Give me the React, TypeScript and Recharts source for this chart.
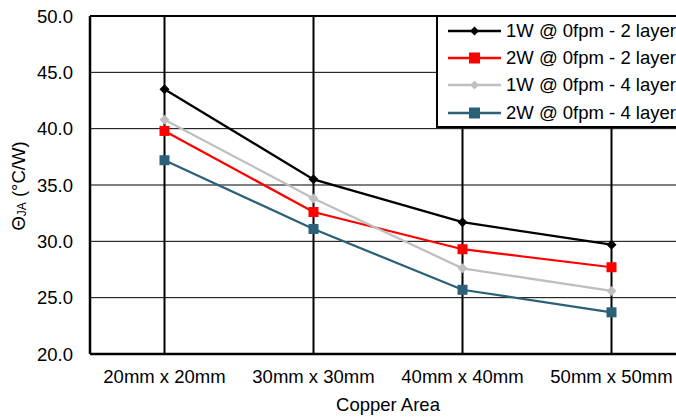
import {
  LineChart,
  Line,
  CartesianGrid,
  XAxis,
  YAxis,
  ReferenceLine,
  Legend,
} from "recharts";

const categories = ["20mm x 20mm", "30mm x 30mm", "40mm x 40mm", "50mm x 50mm"];
const seriesNames = [
  "1W @ 0fpm - 2 layers",
  "2W @ 0fpm - 2 layers",
  "1W @ 0fpm - 4 layers",
  "2W @ 0fpm - 4 layers",
];
const oneWattTwoLayer = [43.5, 35.5, 31.7, 29.7];
const twoWattTwoLayer = [39.8, 32.6, 29.3, 27.7];
const oneWattFourLayer = [40.8, 33.8, 27.6, 25.6];
const twoWattFourLayer = [37.2, 31.1, 25.7, 23.7];
const yTicks = [20, 25, 30, 35, 40, 45, 50];

const FONT = '"Liberation Sans", Arial, sans-serif';
const FS = 18.5;

// style per series, same order as seriesNames
const styles = [
  { key: "s1", color: "#000000", shape: "diamond", r: 5, lr: 4.5 },
  { key: "s2", color: "#ff0000", shape: "square", r: 5, lr: 5.5 },
  { key: "s3", color: "#bfbfbf", shape: "diamond", r: 5, lr: 4.5 },
  { key: "s4", color: "#2b6079", shape: "square", r: 5, lr: 5.5 },
];

const seriesValues = [oneWattTwoLayer, twoWattTwoLayer, oneWattFourLayer, twoWattFourLayer];

const chartData = categories.map((area, i) => {
  const row: Record<string, string | number> = { area };
  styles.forEach((s, j) => {
    row[s.key] = seriesValues[j][i];
  });
  return row;
});

function Marker({ shape, color, cx, cy, r }: any) {
  if (shape === "diamond") {
    return (
      <path
        d={`M${cx},${cy - r}L${cx + r},${cy}L${cx},${cy + r}L${cx - r},${cy}Z`}
        fill={color}
      />
    );
  }
  return <rect x={cx - r} y={cy - r} width={2 * r} height={2 * r} fill={color} />;
}

function makeDot(shape: string, color: string, r: number) {
  return (props: any) => {
    const { cx, cy, index } = props;
    if (cx == null || cy == null) return <g key={index} />;
    return (
      <g key={index}>
        <Marker shape={shape} color={color} cx={cx} cy={cy} r={r} />
      </g>
    );
  };
}

function LegendBox() {
  return (
    <div
      style={{
        boxSizing: "border-box",
        width: 260,
        height: 113,
        border: "2px solid #000",
        background: "#fff",
        fontFamily: FONT,
        fontSize: FS,
        color: "#000",
      }}
    >
      {seriesNames.map((name, i) => (
        <div
          key={name}
          style={{
            display: "flex",
            alignItems: "center",
            height: 27.3,
            paddingLeft: 10,
            whiteSpace: "nowrap",
          }}
        >
          <svg width={53} height={16} style={{ marginRight: 5, flex: "none" }}>
            <line x1={0} y1={8} x2={53} y2={8} stroke={styles[i].color} strokeWidth={2.5} />
            <Marker
              shape={styles[i].shape}
              color={styles[i].color}
              cx={26.5}
              cy={8}
              r={styles[i].lr}
            />
          </svg>
          <span>{name}</span>
        </div>
      ))}
    </div>
  );
}

function YTitle(props: any) {
  const vb = props.viewBox || { x: 0, y: 16, width: 90, height: 338 };
  const x = vb.x + 18;
  const y = vb.y + vb.height / 2 + 1;
  return (
    <text
      x={x}
      y={y}
      transform={`rotate(-90, ${x}, ${y})`}
      textAnchor="middle"
      dominantBaseline="central"
      fontFamily={FONT}
      fontSize={FS}
      fill="#000"
    >
      Θ
      <tspan dy={4} fontSize={12}>
        JA
      </tspan>
      <tspan dy={-4}> (°C/W)</tspan>
    </text>
  );
}

function XTitle(props: any) {
  const vb = props.viewBox || { x: 90, y: 354, width: 596, height: 63 };
  return (
    <text
      x={vb.x + vb.width / 2}
      y={vb.y + 57}
      textAnchor="middle"
      fontFamily={FONT}
      fontSize={FS}
      fill="#000"
    >
      Copper Area
    </text>
  );
}

export default function App() {
  return (
    <div
      style={{
        position: "fixed",
        left: 0,
        top: 0,
        width: 676,
        height: 417,
        overflow: "hidden",
        background: "#fff",
      }}
    >
      <LineChart
        width={690}
        height={417}
        data={chartData}
        margin={{ top: 16, right: 4, left: 0, bottom: 0 }}
        style={{ fontFamily: FONT }}
      >
        <CartesianGrid vertical={false} stroke="#000" strokeWidth={1} />
        <CartesianGrid horizontal={false} stroke="#000" strokeWidth={2} />
        <XAxis
          dataKey="area"
          type="category"
          scale="band"
          height={63}
          tickLine={false}
          tickMargin={10}
          axisLine={{ stroke: "#000", strokeWidth: 2.5 }}
          tick={{ fontSize: FS, fill: "#000", fontFamily: FONT }}
          label={<XTitle />}
        />
        <YAxis
          width={90}
          domain={[20, 50]}
          ticks={yTicks}
          interval={0}
          tickLine={false}
          tickMargin={11}
          axisLine={{ stroke: "#000", strokeWidth: 2.5 }}
          tick={{ fontSize: FS, fill: "#000", fontFamily: FONT }}
          tickFormatter={(v) => Number(v).toFixed(1)}
          label={<YTitle />}
        />
        <ReferenceLine y={50} stroke="#000" strokeWidth={2} />
        {styles.map((s, i) => (
          <Line
            key={s.key}
            dataKey={s.key}
            name={seriesNames[i]}
            type="linear"
            stroke={s.color}
            strokeWidth={2.25}
            dot={makeDot(s.shape, s.color, s.r)}
            activeDot={false}
            isAnimationActive={false}
          />
        ))}
        <Legend
          layout="vertical"
          align="center"
          verticalAlign="middle"
          wrapperStyle={{ position: "absolute", left: 436, top: 15, width: 260, height: 113 }}
          content={() => <LegendBox />}
        />
      </LineChart>
    </div>
  );
}
